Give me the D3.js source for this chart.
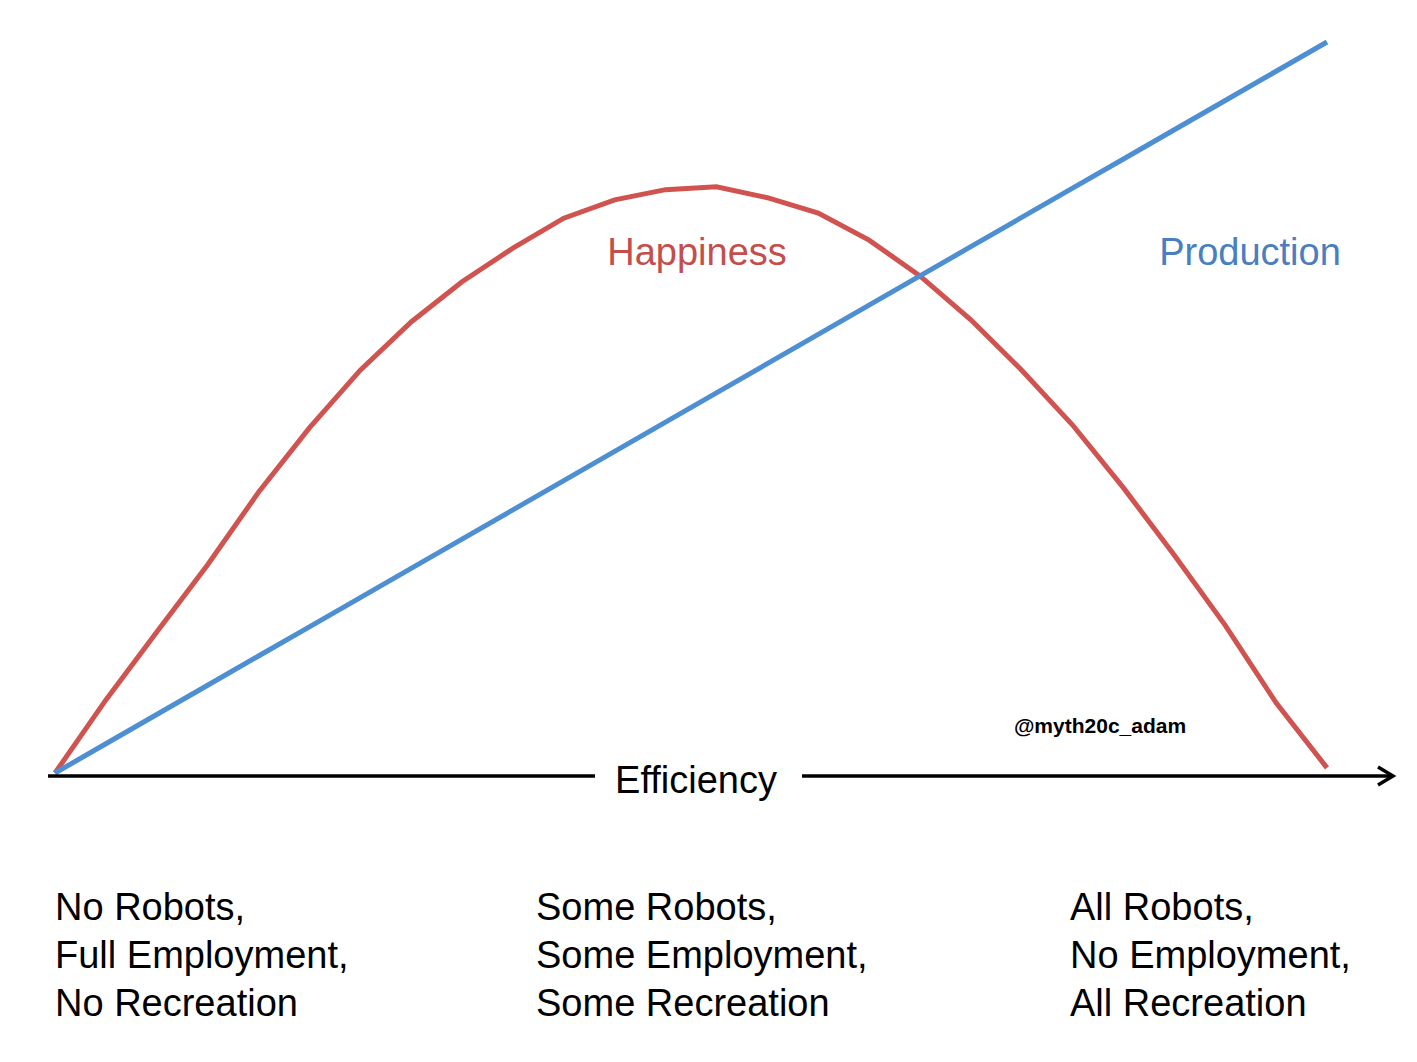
<!DOCTYPE html>
<html><head><meta charset="utf-8">
<script src="https://cdn.jsdelivr.net/npm/d3@7"></script>
<style>body{margin:0;background:#fff}text{font-family:"Liberation Sans",Arial,sans-serif}</style>
</head><body><svg id="c" width="1417" height="1062"></svg>
<script>
const steps = d3.range(0, 26);
const happiness = [0,10,19.3,28.5,38.4,47.2,55.1,61.7,67.2,71.8,75.9,78.4,79.8,80.2,78.7,76.6,72.9,68,62,55.1,47.6,39,29.8,20.2,9.6,0.7];
const production = [0,4,8,12,16,20,24,28,32,36,40,44,48,52,56,60,64,68,72,76,80,84,88,92,96,100];
const bottomLabels = [
  ["No Robots,","Full Employment,","No Recreation"],
  ["Some Robots,","Some Employment,","Some Recreation"],
  ["All Robots,","No Employment,","All Recreation"]
];
const svg = d3.select("#c");
const x = d3.scaleLinear().domain([0,25]).range([55,1327]);
const y = d3.scaleLinear().domain([0,100]).range([773,42]);
const line = d3.line().x((d,i)=>x(i)).y(d=>y(d));
svg.append("path").attr("d",line(happiness)).attr("fill","none").attr("stroke","#d0534f").attr("stroke-width",5);
svg.append("path").attr("d",line(production)).attr("fill","none").attr("stroke","#4d8fd2").attr("stroke-width",5);
// axis
svg.append("line").attr("x1",48).attr("x2",595).attr("y1",776).attr("y2",776).attr("stroke","#000").attr("stroke-width",3.5);
svg.append("line").attr("x1",802).attr("x2",1392).attr("y1",776).attr("y2",776).attr("stroke","#000").attr("stroke-width",3.5);
svg.append("path").attr("d","M1378,767 L1393,776 L1378,785").attr("fill","none").attr("stroke","#000").attr("stroke-width",3.5);
svg.append("text").attr("x",696).attr("y",793).attr("text-anchor","middle").attr("font-size",38).text("Efficiency");
svg.append("text").attr("x",697).attr("y",265).attr("text-anchor","middle").attr("font-size",38).attr("fill","#c44e4b").text("Happiness");
svg.append("text").attr("x",1250).attr("y",265).attr("text-anchor","middle").attr("font-size",38).attr("fill","#4a7ec0").text("Production");
svg.append("text").attr("x",1100).attr("y",733).attr("text-anchor","middle").attr("font-size",21).attr("font-weight","bold").text("@myth20c_adam");
const lx=[55,536,1070];
bottomLabels.forEach((ls,i)=>ls.forEach((t,j)=>svg.append("text").attr("x",lx[i]).attr("y",920+j*48).attr("font-size",38).text(t)));
</script></body></html>
